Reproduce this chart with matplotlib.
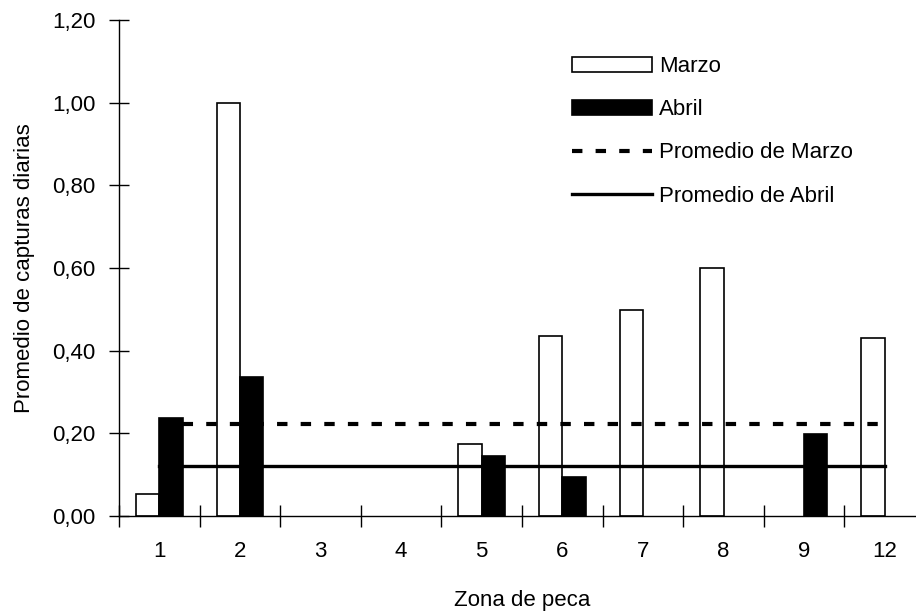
import matplotlib
matplotlib.use("Agg")
import matplotlib.pyplot as plt
import numpy as np

plt.rcParams['font.family'] = ['Liberation Sans', 'DejaVu Sans']
plt.rcParams['lines.scale_dashes'] = False

zonas = ['1', '2', '3', '4', '5', '6', '7', '8', '9', '12']
marzo = [0.053, 1.00, 0.0, 0.0, 0.174, 0.436, 0.498, 0.600, 0.0, 0.430]
abril = [0.237, 0.336, 0.0, 0.0, 0.146, 0.094, 0.0, 0.0, 0.199, 0.0]
prom_marzo = 0.222
prom_abril = 0.121
yticks = [0.0, 0.2, 0.4, 0.6, 0.8, 1.0, 1.2]
ytick_labels = ['0,00', '0,20', '0,40', '0,60', '0,80', '1,00', '1,20']

fs = 16
W, H = 916, 613
fig = plt.figure(figsize=(W / 100, H / 100), dpi=100)
# axes: x from 119 px, category width ~80.6 px; y 0 at 516 px, 1.2 at 20 px
ax = fig.add_axes([119 / W, 1 - 516 / H, 806 / W, 496 / H])

x = np.arange(len(zonas))
bw = 0.29
# empty bars are not drawn in the original
lw_m = [1.2 if v > 0 else 0 for v in marzo]
lw_a = [1.2 if v > 0 else 0 for v in abril]
b1 = ax.bar(x - bw / 2, marzo, bw, color='white', edgecolor='black', linewidth=lw_m,
            label='Marzo', zorder=2)
b2 = ax.bar(x + bw / 2, abril, bw, color='black', edgecolor='black', linewidth=lw_a,
            label='Abril', zorder=2)
l1, = ax.plot([x[0], x[-1]], [prom_marzo, prom_marzo], color='black', lw=3.0,
              dashes=(7.5, 9.5), label='Promedio de Marzo', zorder=3)
l2, = ax.plot([x[0], x[-1]], [prom_abril, prom_abril], color='black', lw=2.4,
              label='Promedio de Abril', zorder=3)

ax.set_xlim(-0.5, len(zonas) - 0.5)
ax.set_ylim(0, 1.2)
ax.set_yticks(yticks)
ax.set_yticklabels(ytick_labels, fontsize=fs)
ax.set_xticks(x)
ax.set_xticklabels(zonas, fontsize=fs)
ax.set_xticks(x - 0.5, minor=True)
ax.tick_params(axis='x', which='major', length=0, pad=18)
ax.tick_params(axis='x', which='minor', direction='inout', length=16, width=1)
ax.tick_params(axis='y', direction='inout', length=14, width=1, pad=10)

for s in ['top', 'right']:
    ax.spines[s].set_visible(False)
ax.spines['left'].set_linewidth(1)
ax.spines['bottom'].set_linewidth(1)

ax.set_xlabel('Zona de peca', fontsize=fs, labelpad=20)
ax.set_ylabel('Promedio de capturas diarias', fontsize=fs, labelpad=12)

# patch outline of Marzo handle
b1.patches[0].set_linewidth(1.2)
ax.legend([b1.patches[0], b2.patches[0], l1, l2],
          ['Marzo', 'Abril', 'Promedio de Marzo', 'Promedio de Abril'],
          loc='upper left', bbox_to_anchor=(572 / W, 1 - 56 / H),
          bbox_transform=fig.transFigure, frameon=False, fontsize=fs,
          handlelength=3.6, handleheight=0.65, handletextpad=0.3,
          labelspacing=1.0, borderpad=0, borderaxespad=0)

fig.savefig('out.png', dpi=100)
